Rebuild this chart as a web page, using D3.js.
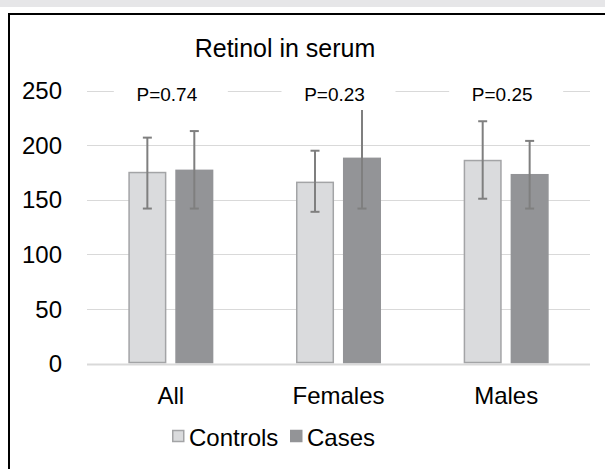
<!doctype html>
<html lang="en">
  <head>
    <meta charset="UTF-8" />
    <title>Retinol in serum</title>
    <script src="https://d3js.org/d3.v7.min.js"></script>
    <style>
      body {
        margin: 0;
        padding: 0;
        background: #fff;
        font-family: 'Liberation Sans', Arial, sans-serif;
      }
      .tick-label {
        font-size: 24px;
        fill: #000;
      }
      .cat-label {
        font-size: 24px;
        fill: #000;
      }
      .p-label {
        font-size: 19px;
        fill: #000;
      }
      .legend-item {
        font-size: 24px;
        fill: #000;
      }
    </style>
  </head>
  <body>
    <div id="chart"></div>
    <script>
      // Data
      const categories = ['All', 'Females', 'Males']
      const series = ['Controls', 'Cases']
      const controlsMean = [175, 166, 186]
      const casesMean = [177, 188, 173]
      const controlsLow = [142, 139, 151]
      const controlsHigh = [207, 195, 222]
      const casesLow = [142, 142, 142]
      const casesHigh = [213, 236, 204]
      const pValues = ['P=0.74', 'P=0.23', 'P=0.25']
      const yTicks = [0, 50, 100, 150, 200, 250]

      const colors = { Controls: '#dadbdd', Cases: '#939497' }
      const strokes = { Controls: '#a3a4a6', Cases: '#939497' }

      const W = 605
      const H = 469
      const plot = { left: 87, right: 590, top: 90.7, bottom: 363.5 }

      const svg = d3.select('#chart').append('svg').attr('width', W).attr('height', H)

      // grey strip on top and chart frame
      svg.append('rect').attr('x', 0).attr('y', 0).attr('width', W).attr('height', 7).attr('fill', '#e6e6e8')
      svg
        .append('rect')
        .attr('x', 9)
        .attr('y', 14)
        .attr('width', 700)
        .attr('height', 600)
        .attr('fill', 'none')
        .attr('stroke', '#000')
        .attr('stroke-width', 2)

      // title
      svg
        .append('text')
        .attr('x', 285)
        .attr('y', 57)
        .attr('text-anchor', 'middle')
        .attr('font-size', '25px')
        .text('Retinol in serum')

      // scales
      const y = d3.scaleLinear().domain([0, 250]).range([plot.bottom, plot.top])
      const x0 = d3.scaleBand().domain(categories).range([plot.left, plot.right]).padding(0)
      const x1 = d3.scaleBand().domain(series).range([0, x0.bandwidth()]).paddingInner(0.19).paddingOuter(0.88)

      // gridlines
      svg
        .append('g')
        .selectAll('line')
        .data(yTicks)
        .join('line')
        .attr('x1', plot.left)
        .attr('x2', plot.right)
        .attr('y1', (d) => Math.round(y(d)) + 0.5)
        .attr('y2', (d) => Math.round(y(d)) + 0.5)
        .attr('stroke', '#d9d9d9')
        .attr('stroke-width', (d) => (d === 0 ? 2 : 1.2))

      // y tick labels
      svg
        .append('g')
        .selectAll('text')
        .data(yTicks)
        .join('text')
        .attr('class', 'tick-label')
        .attr('x', 62)
        .attr('y', (d) => y(d))
        .attr('dy', '0.36em')
        .attr('text-anchor', 'end')
        .text((d) => d)

      // bars
      const rows = categories.map((c, i) => ({
        cat: c,
        vals: [
          { s: 'Controls', v: controlsMean[i], lo: controlsLow[i], hi: controlsHigh[i] },
          { s: 'Cases', v: casesMean[i], lo: casesLow[i], hi: casesHigh[i] },
        ],
      }))

      const groups = svg
        .append('g')
        .selectAll('g')
        .data(rows)
        .join('g')
        .attr('transform', (d) => `translate(${x0(d.cat)},0)`)

      groups
        .selectAll('rect')
        .data((d) => d.vals)
        .join('rect')
        .attr('x', (d) => x1(d.s) + 0.75)
        .attr('y', (d) => y(d.v))
        .attr('width', x1.bandwidth() - 1.5)
        .attr('height', (d) => y(0) - y(d.v) - 1)
        .attr('fill', (d) => colors[d.s])
        .attr('stroke', (d) => strokes[d.s])
        .attr('stroke-width', 1.5)

      // error bars
      const capW = 9
      const err = groups
        .selectAll('g.err')
        .data((d) => d.vals)
        .join('g')
        .attr('class', 'err')
        .attr('stroke', '#7f7f7f')
        .attr('stroke-width', 2)

      err
        .append('line')
        .attr('x1', (d) => x1(d.s) + x1.bandwidth() / 2)
        .attr('x2', (d) => x1(d.s) + x1.bandwidth() / 2)
        .attr('y1', (d) => y(d.lo))
        .attr('y2', (d) => y(d.hi))
      err
        .append('line')
        .attr('x1', (d) => x1(d.s) + x1.bandwidth() / 2 - capW / 2)
        .attr('x2', (d) => x1(d.s) + x1.bandwidth() / 2 + capW / 2)
        .attr('y1', (d) => y(d.hi))
        .attr('y2', (d) => y(d.hi))
      err
        .append('line')
        .attr('x1', (d) => x1(d.s) + x1.bandwidth() / 2 - capW / 2)
        .attr('x2', (d) => x1(d.s) + x1.bandwidth() / 2 + capW / 2)
        .attr('y1', (d) => y(d.lo))
        .attr('y2', (d) => y(d.lo))

      // P-value text boxes (white fill hides the grid behind them)
      const pBox = svg
        .append('g')
        .selectAll('g')
        .data(pValues)
        .join('g')
        .attr('transform', (d, i) => `translate(${x0(categories[i]) + x0.bandwidth() / 2},0)`)

      pBox.append('rect').attr('x', -57).attr('y', 78).attr('width', 114).attr('height', 32).attr('fill', '#fff')
      pBox
        .append('text')
        .attr('class', 'p-label')
        .attr('x', -4)
        .attr('y', 101)
        .attr('text-anchor', 'middle')
        .text((d) => d)

      // category labels
      svg
        .append('g')
        .selectAll('text')
        .data(categories)
        .join('text')
        .attr('class', 'cat-label')
        .attr('x', (d) => x0(d) + x0.bandwidth() / 2)
        .attr('y', 404)
        .attr('text-anchor', 'middle')
        .text((d) => d)

      // legend
      const legend = svg.append('g').attr('transform', 'translate(172,437)')
      const legX = { Controls: 0, Cases: 118 }
      series.forEach((s) => {
        const g = legend.append('g').attr('transform', `translate(${legX[s]},0)`)
        g.append('rect')
          .attr('x', 0.75)
          .attr('y', -6.5)
          .attr('width', 11)
          .attr('height', 11)
          .attr('fill', colors[s])
          .attr('stroke', strokes[s])
          .attr('stroke-width', 1.5)
        g.append('text').attr('class', 'legend-item').attr('x', 17).attr('y', 0).attr('dy', '0.36em').text(s)
      })
    </script>
  </body>
</html>
